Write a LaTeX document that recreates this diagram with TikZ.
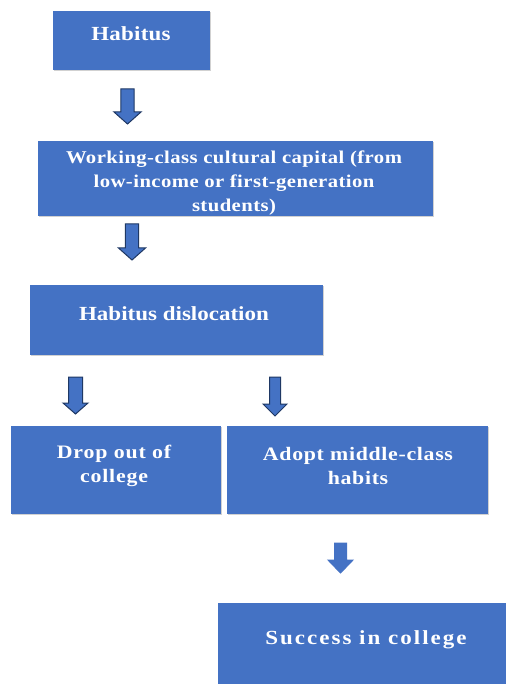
\documentclass[tikz,border=0pt]{standalone}
\usepackage{fontspec}
\setmainfont{Liberation Serif}
\definecolor{boxblue}{HTML}{4472C4}
\definecolor{arrowline}{HTML}{1F3864}

% down-pointing block arrow: centre x, top y, head start y, tip y, shaft half-width, head half-width, outline colour
\newcommand{\downblock}[7]{%
  \filldraw[blockarrow, draw=#7]
    (#1-#5,#2) -- (#1+#5,#2) -- (#1+#5,#3) -- (#1+#6,#3) -- (#1,#4)
    -- (#1-#6,#3) -- (#1-#5,#3) -- cycle;}

\begin{document}
\begin{tikzpicture}[x=1pt,y=-1pt,
  boxshade/.style={fill=black!18},
  txt/.style 2 args={text=white, align=center, inner sep=0pt,
    font=\bfseries\fontsize{#1}{24}\selectfont\addfontfeatures{FakeStretch=1.15,LetterSpace=#2}},
  blockarrow/.style={fill=boxblue, line width=1pt, line join=miter}]
\useasboundingbox[fill=white] (0,0) rectangle (505,684);

% boxes (a faint shade on the right and lower edges)
\foreach \name/\xa/\ya/\xb/\yb in {habitus/53/11/210/70, capital/38/141/433/216,
    disloc/30/285/323/355, dropout/11/426/221/514, adopt/227/426/488/514,
    success/218/603/506/685} {
  \fill[boxshade] (\xa+1.2,\ya+1.2) rectangle (\xb+1.2,\yb+1.2);
  \fill[boxblue] (\xa,\ya) rectangle (\xb,\yb);
  \coordinate (\name) at ({(\xa+\xb)/2},{(\ya+\yb)/2});
}

% labels
\node[txt={20}{1}] (habitusT) at (131,34) {Habitus};
\node[txt={18}{2.4}] (capitalT) at (234,183.5) {Working-class cultural capital (from\\low-income or first-generation\\students)};
\node[txt={20}{0}] (dislocT)  at (174,314) {Habitus dislocation};
\node[txt={19}{4.3}] (dropoutT) at (114,466) {Drop out of\\college};
\node[txt={19}{3.6}] (adoptT)   at (358,466) {Adopt middle-class\\habits};
\node[txt={20}{10}] (successT) at (366,640) {Success in college};

% block arrows between the steps
\downblock{127.5}{89}{112}{124}{6.7}{13.5}{arrowline}
\downblock{132}{224}{248}{260}{6.7}{13.5}{arrowline}
\downblock{75.5}{377}{403}{414}{7}{12.5}{arrowline}
\downblock{275}{377}{404}{416}{5.5}{12}{arrowline}
\downblock{340.5}{543}{560}{573}{6}{12.5}{boxblue}
\end{tikzpicture}
\end{document}
